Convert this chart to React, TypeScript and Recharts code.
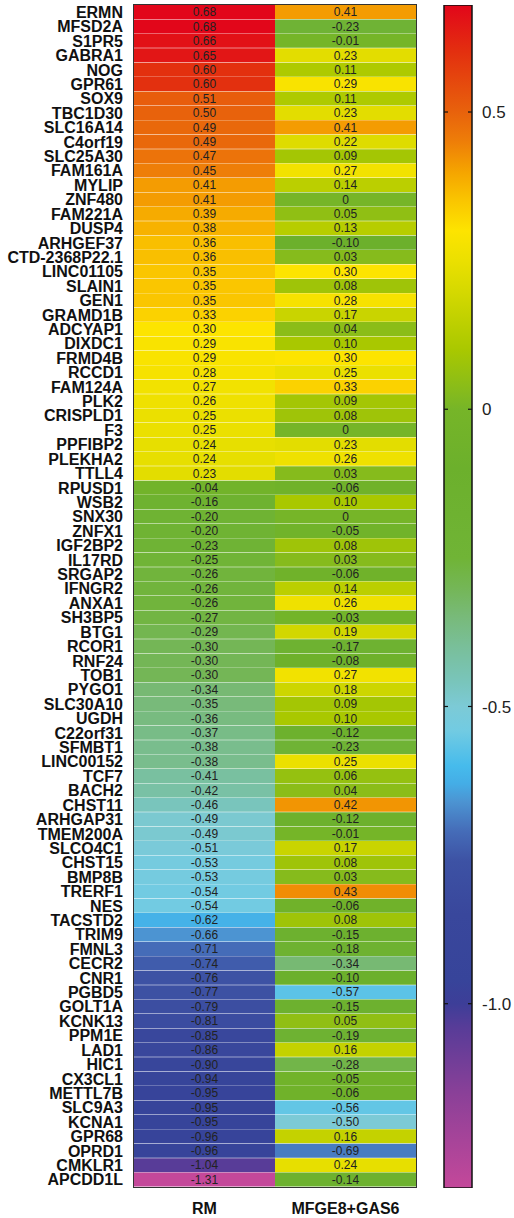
import { BarChart, Bar, XAxis, YAxis, Cell, LabelList } from 'recharts';

const genes = [
  'ERMN', 'MFSD2A', 'S1PR5', 'GABRA1', 'NOG', 'GPR61', 'SOX9', 'TBC1D30', 'SLC16A14', 'C4orf19',
  'SLC25A30', 'FAM161A', 'MYLIP', 'ZNF480', 'FAM221A', 'DUSP4', 'ARHGEF37', 'CTD-2368P22.1', 'LINC01105', 'SLAIN1',
  'GEN1', 'GRAMD1B', 'ADCYAP1', 'DIXDC1', 'FRMD4B', 'RCCD1', 'FAM124A', 'PLK2', 'CRISPLD1', 'F3',
  'PPFIBP2', 'PLEKHA2', 'TTLL4', 'RPUSD1', 'WSB2', 'SNX30', 'ZNFX1', 'IGF2BP2', 'IL17RD', 'SRGAP2',
  'IFNGR2', 'ANXA1', 'SH3BP5', 'BTG1', 'RCOR1', 'RNF24', 'TOB1', 'PYGO1', 'SLC30A10', 'UGDH',
  'C22orf31', 'SFMBT1', 'LINC00152', 'TCF7', 'BACH2', 'CHST11', 'ARHGAP31', 'TMEM200A', 'SLCO4C1', 'CHST15',
  'BMP8B', 'TRERF1', 'NES', 'TACSTD2', 'TRIM9', 'FMNL3', 'CECR2', 'CNR1', 'PGBD5', 'GOLT1A',
  'KCNK13', 'PPM1E', 'LAD1', 'HIC1', 'CX3CL1', 'METTL7B', 'SLC9A3', 'KCNA1', 'GPR68', 'OPRD1',
  'CMKLR1', 'APCDD1L',
];

const rmValues = [
  0.68, 0.68, 0.66, 0.65, 0.6, 0.6, 0.51, 0.5, 0.49, 0.49,
  0.47, 0.45, 0.41, 0.41, 0.39, 0.38, 0.36, 0.36, 0.35, 0.35,
  0.35, 0.33, 0.3, 0.29, 0.29, 0.28, 0.27, 0.26, 0.25, 0.25,
  0.24, 0.24, 0.23, -0.04, -0.16, -0.2, -0.2, -0.23, -0.25, -0.26,
  -0.26, -0.26, -0.27, -0.29, -0.3, -0.3, -0.3, -0.34, -0.35, -0.36,
  -0.37, -0.38, -0.38, -0.41, -0.42, -0.46, -0.49, -0.49, -0.51, -0.53,
  -0.53, -0.54, -0.54, -0.62, -0.66, -0.71, -0.74, -0.76, -0.77, -0.79,
  -0.81, -0.85, -0.86, -0.9, -0.94, -0.95, -0.95, -0.95, -0.96, -0.96,
  -1.04, -1.31,
];

const mixValues = [
  0.41, -0.23, -0.01, 0.23, 0.11, 0.29, 0.11, 0.23, 0.41, 0.22,
  0.09, 0.27, 0.14, 0, 0.05, 0.13, -0.1, 0.03, 0.3, 0.08,
  0.28, 0.17, 0.04, 0.1, 0.3, 0.25, 0.33, 0.09, 0.08, 0,
  0.23, 0.26, 0.03, -0.06, 0.1, 0, -0.05, 0.08, 0.03, -0.06,
  0.14, 0.26, -0.03, 0.19, -0.17, -0.08, 0.27, 0.18, 0.09, 0.1,
  -0.12, -0.23, 0.25, 0.06, 0.04, 0.42, -0.12, -0.01, 0.17, 0.08,
  0.03, 0.43, -0.06, 0.08, -0.15, -0.18, -0.34, -0.1, -0.57, -0.15,
  0.05, -0.19, 0.16, -0.28, -0.05, -0.06, -0.56, -0.5, 0.16, -0.69,
  0.24, -0.14,
];

const columns = ['RM', 'MFGE8+GAS6'];
const scaleTicks = [0.5, 0, -0.5, -1.0];
const scaleMin = -1.31;
const scaleMax = 0.68;

// colour ramp, value -> colour
const STOPS: [number, string][] = [
  [0.68, '#e2061a'],
  [0.6, '#e3300f'],
  [0.5, '#e8620c'],
  [0.45, '#ee7e08'],
  [0.4, '#f5a400'],
  [0.35, '#fac600'],
  [0.3, '#fde400'],
  [0.25, '#ebe000'],
  [0.2, '#d6d900'],
  [0.1, '#a9c800'],
  [0.03, '#86bb1c'],
  [0, '#76b528'],
  [-0.1, '#6cb02c'],
  [-0.25, '#70b436'],
  [-0.3, '#74b656'],
  [-0.35, '#78ba7a'],
  [-0.4, '#79bf9a'],
  [-0.46, '#79c5bc'],
  [-0.5, '#7ccad6'],
  [-0.54, '#72cbe2'],
  [-0.6, '#46bbec'],
  [-0.63, '#44ade6'],
  [-0.66, '#4c94d2'],
  [-0.71, '#456cb8'],
  [-0.76, '#3d52a4'],
  [-0.85, '#39479c'],
  [-0.96, '#37449a'],
  [-1.0, '#3d3e98'],
  [-1.04, '#583c98'],
  [-1.15, '#8a4098'],
  [-1.31, '#c4489a'],
];

const hex = (c: string) => [1, 3, 5].map(i => parseInt(c.slice(i, i + 2), 16));

function colorFor(v: number) {
  if (v >= STOPS[0][0]) return STOPS[0][1];
  for (let i = 1; i < STOPS.length; i++) {
    const [v1, c1] = STOPS[i];
    const [v0, c0] = STOPS[i - 1];
    if (v >= v1) {
      const t = (v0 - v) / (v0 - v1);
      const a = hex(c0);
      const b = hex(c1);
      const m = a.map((x, k) => Math.round(x + (b[k] - x) * t));
      return `rgb(${m[0]},${m[1]},${m[2]})`;
    }
  }
  return STOPS[STOPS.length - 1][1];
}

const rows = genes.map((gene, i) => ({ gene, rm: rmValues[i], mix: mixValues[i] }));
const scaleData = [{ name: 'scale', range: [scaleMin, scaleMax] }];

const FONT = '"Liberation Sans", Arial, Helvetica, sans-serif';
const fmt = (v: unknown) => {
  const n = Number(v);
  return n === 0 ? '0' : n.toFixed(2);
};

function ScaleTick(props: any) {
  const { x, y, payload } = props;
  const v = payload.value as number;
  return (
    <g>
      <line x1={x - 38} x2={x - 34} y1={y} y2={y} stroke="#111" strokeWidth={1.2} />
      <line x1={x - 14} x2={x - 10} y1={y} y2={y} stroke="#111" strokeWidth={1.2} />
      <text x={x} y={y} dy="0.355em" fontSize={17} fill="#222" fontFamily={FONT}>
        {v === 0 ? '0' : v === -1 ? '-1.0' : String(v)}
      </text>
    </g>
  );
}

export default function App() {
  return (
    <div style={{ position: 'absolute', left: 0, top: 0, width: 514, height: 1218, background: '#fff' }}>
      <div style={{ position: 'absolute', left: 0, top: 0 }}>
        <BarChart
          width={420}
          height={1218}
          data={rows}
          layout="vertical"
          barCategoryGap={0}
          margin={{ top: 5, right: 4, left: 0, bottom: 0 }}
        >
          <XAxis
            type="number"
            domain={[0, 2]}
            ticks={[0.5, 1.5]}
            tickFormatter={(v: number) => columns[Math.floor(v)]}
            axisLine={false}
            tickLine={false}
            height={31}
            tickSize={0}
            tickMargin={16}
            tick={{ fontSize: 16, fontWeight: 'bold', fill: '#111', fontFamily: FONT }}
          />
          <YAxis
            type="category"
            dataKey="gene"
            width={134}
            interval={0}
            axisLine={false}
            tickLine={false}
            tickSize={0}
            tickMargin={11}
            tick={{ fontSize: 16, fontWeight: 'bold', fill: '#111', fontFamily: FONT }}
          />
          <Bar dataKey={() => 1} stackId="h" isAnimationActive={false}>
            {rows.map((r, i) => (
              <Cell key={`rm-${i}`} fill={colorFor(r.rm)} />
            ))}
            <LabelList dataKey="rm" position="center" formatter={fmt} fontSize={12} fill="#222" fontFamily={FONT} />
          </Bar>
          <Bar dataKey={() => 1} stackId="h" isAnimationActive={false}>
            {rows.map((r, i) => (
              <Cell key={`mix-${i}`} fill={colorFor(r.mix)} />
            ))}
            <LabelList dataKey="mix" position="center" formatter={fmt} fontSize={12} fill="#222" fontFamily={FONT} />
          </Bar>
        </BarChart>
      </div>
      <div
        style={{
          position: 'absolute',
          left: 133,
          top: 4,
          width: 284,
          height: 1184,
          border: '1px solid #333',
          boxSizing: 'border-box',
          pointerEvents: 'none',
        }}
      />
      <div style={{ position: 'absolute', left: 430, top: 0 }}>
        <BarChart
          width={84}
          height={1218}
          data={scaleData}
          barCategoryGap={0}
          margin={{ top: 5, right: 0, left: 14, bottom: 30 }}
        >
          <defs>
            <linearGradient id="scaleGrad" x1="0" y1="0" x2="0" y2="1">
              {STOPS.map(([v, c]) => (
                <stop key={v} offset={(scaleMax - v) / (scaleMax - scaleMin)} stopColor={c} />
              ))}
            </linearGradient>
          </defs>
          <XAxis dataKey="name" hide />
          <YAxis
            type="number"
            orientation="right"
            domain={[scaleMin, scaleMax]}
            allowDataOverflow
            ticks={scaleTicks}
            width={42}
            axisLine={false}
            tickLine={false}
            tickSize={0}
            tickMargin={10}
            tick={<ScaleTick />}
          />
          <Bar dataKey="range" fill="url(#scaleGrad)" stroke="#111" strokeWidth={1.5} isAnimationActive={false} />
        </BarChart>
      </div>
    </div>
  );
}
